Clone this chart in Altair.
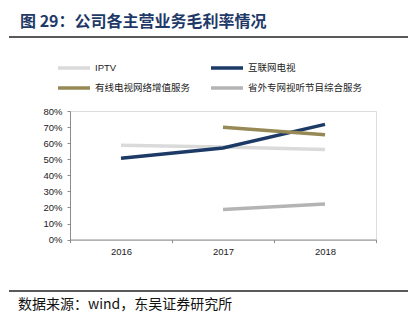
import altair as alt
import pandas as pd

years = ["2016", "2017", "2018"]
series_names = ["IPTV", "互联网电视", "有线电视网络增值服务", "省外专网视听节目综合服务"]
iptv = [58.7, 57.6, 56.0]
ott = [50.6, 57.0, 71.7]
cable = [None, 69.9, 65.3]
province = [None, 18.7, 22.2]
colors = ["#dadada", "#1d3a66", "#978955", "#b4b4b4"]

title_text = "图 29：公司各主营业务毛利率情况"
footer_text = "数据来源：wind，东吴证券研究所"
y_ticks = [0, 10, 20, 30, 40, 50, 60, 70, 80]

rows = []
for name, vals in zip(series_names, [iptv, ott, cable, province]):
    for yr, v in zip(years, vals):
        if v is not None:
            rows.append({"year": yr, "series": name, "value": v / 100})
df = pd.DataFrame(rows)

# legend is filled column by column, so order the domain to read row by row
legend_order = [series_names[0], series_names[2], series_names[1], series_names[3]]
legend_colors = [colors[0], colors[2], colors[1], colors[3]]

W, H = 306, 128.6
PL, PT = 70, 111
sans = "Liberation Sans, Noto Sans CJK SC"

lines = alt.Chart(df).mark_line(strokeWidth=3.5).encode(
    x=alt.X("year:N", sort=years, title=None,
            scale=alt.Scale(paddingInner=0, paddingOuter=0),
            axis=alt.Axis(labelAngle=0, tickBand="extent", tickSize=3,
                          labelPadding=4, domainColor="#8c8c8c", tickColor="#8c8c8c",
                          labelFont=sans, labelFontSize=9.5, labelColor="#222")),
    y=alt.Y("value:Q", title=None,
            scale=alt.Scale(domain=[0, 0.8], nice=False),
            axis=alt.Axis(format=".0%", values=[v / 100 for v in y_ticks], grid=False,
                          tickSize=3, labelPadding=5, domainColor="#8c8c8c", tickColor="#8c8c8c",
                          labelFont=sans, labelFontSize=9.5, labelColor="#222")),
    color=alt.Color("series:N",
                    scale=alt.Scale(domain=legend_order, range=legend_colors),
                    legend=alt.Legend(title=None, orient="none", legendX=-14, legendY=-49,
                                      columns=2, columnPadding=18, rowPadding=8,
                                      clipHeight=12,
                                      symbolType="stroke", symbolSize=1024,
                                      symbolStrokeWidth=3.5, labelOffset=3,
                                      labelFont=sans, labelFontSize=9.5, labelColor="#222",
                                      padding=0)),
    detail="series:N",
)

one = pd.DataFrame({"t": [title_text]})
title = alt.Chart(one).mark_text(align="left", baseline="middle", fontSize=16,
                                 fontWeight="bold", font="Noto Sans CJK SC",
                                 color="#1f3a68").encode(
    x=alt.value(20 - PL), y=alt.value(22 - PT), text="t:N")

foot = pd.DataFrame({"t": [footer_text]})
footer = alt.Chart(foot).mark_text(align="left", baseline="middle", fontSize=14,
                                   font="Noto Sans CJK SC", color="#111").encode(
    x=alt.value(18 - PL), y=alt.value(305 - PT), text="t:N")

top_rule = alt.Chart(one).mark_rule(color="#222", strokeWidth=1.5).encode(
    x=alt.value(9 - PL), x2=alt.value(408 - PL), y=alt.value(37 - PT))
bot_rule = alt.Chart(one).mark_rule(color="#222", strokeWidth=1.5).encode(
    x=alt.value(9 - PL), x2=alt.value(408 - PL), y=alt.value(291 - PT))

chart = alt.layer(lines, title, footer, top_rule, bot_rule).properties(
    width=W, height=H,
    autosize=alt.AutoSizeParams(type="none"),
    padding={"left": PL, "top": PT, "right": 419 - PL - W, "bottom": 325 - PT - H},
).configure_view(stroke=None).configure(background="white")

chart.save("out.html", embed_options={"renderer": "svg", "actions": False})
